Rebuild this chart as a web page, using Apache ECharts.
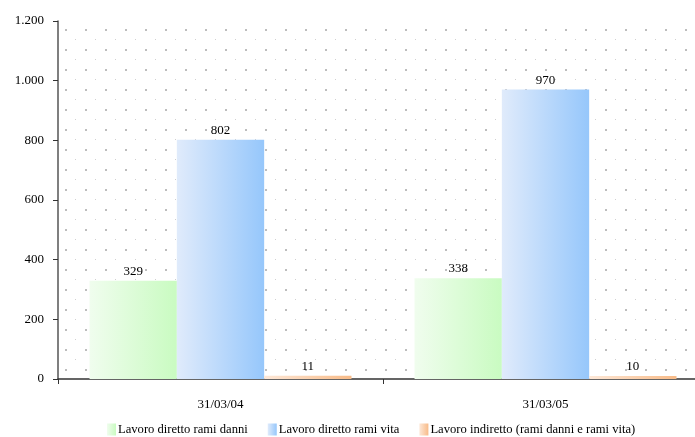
<!DOCTYPE html>
<html>
<head>
<meta charset="utf-8">
<script src="https://cdn.jsdelivr.net/npm/echarts@6/dist/echarts.min.js"></script>
<style>
  html, body { margin: 0; padding: 0; background: #fff; overflow: hidden; width: 695px; height: 437px; }
  #chart { width: 708px; height: 437px; }
</style>
</head>
<body>
<div id="chart"></div>
<script>
// Dates of the two reporting periods
const categories = ['31/03/04', '31/03/05'];
// Values by business line
const direttoDanni = [329, 338];
const direttoVita = [802, 970];
const indiretto = [11, 10];
const seriesNames = [
  'Lavoro diretto rami danni',
  'Lavoro diretto rami vita',
  'Lavoro indiretto (rami danni e rami vita)'
];

const FONT = '"Liberation Serif", "Times New Roman", serif';

// Dotted plot background tile
function dotTile() {
  const c = document.createElement('canvas');
  c.width = 20; c.height = 20;
  const g = c.getContext('2d');
  g.fillStyle = '#bdbdbd';
  g.fillRect(5, 9, 2, 2);
  g.fillStyle = '#d0d0d0';
  g.fillRect(15, 19, 1, 1);
  return c;
}

function grad(from, to) {
  return new echarts.graphic.LinearGradient(0, 0, 1, 0, [
    { offset: 0, color: from },
    { offset: 1, color: to }
  ]);
}
const fills = [
  grad('#f0fdee', '#c9fbc1'),
  grad('#e0ebfb', '#96c7fb'),
  grad('#fde8d8', '#f8bb88')
];

function fmt(v) {
  return String(v).replace(/\B(?=(\d{3})+(?!\d))/g, '.');
}

const chart = echarts.init(document.getElementById('chart'), null, { renderer: 'canvas' });

const makeSeries = (name, data, i) => ({
  name: name,
  type: 'bar',
  data: data,
  barGap: 0,
  barCategoryGap: '19.4%',
  itemStyle: { color: fills[i] },
  label: {
    show: true,
    position: 'top',
    distance: 3,
    color: '#000',
    fontFamily: FONT,
    fontSize: 13
  }
});

chart.setOption({
  animation: false,
  backgroundColor: '#fff',
  textStyle: { fontFamily: FONT },
  grid: {
    left: 58,
    right: 0,
    top: 21,
    bottom: 58,
    show: true,
    borderWidth: 0,
    backgroundColor: { image: dotTile(), repeat: 'repeat' }
  },
  legend: {
    top: 423,
    left: 107,
    padding: 0,
    itemWidth: 9,
    itemHeight: 12,
    itemGap: 20,
    icon: 'rect',
    textStyle: { fontFamily: FONT, fontSize: 12.6, color: '#000', padding: [0, 0, 0, -3] },
    data: seriesNames
  },
  xAxis: {
    type: 'category',
    data: categories,
    axisLine: { lineStyle: { color: '#333', width: 1.5 } },
    axisTick: { show: true, alignWithLabel: false, length: 5, lineStyle: { color: '#333' } },
    axisLabel: { color: '#000', fontFamily: FONT, fontSize: 13, margin: 19 }
  },
  yAxis: {
    type: 'value',
    min: 0,
    max: 1200,
    interval: 200,
    splitLine: { show: false },
    axisLine: { show: true, lineStyle: { color: '#555', width: 1.5 } },
    axisTick: { show: true, length: 5, lineStyle: { color: '#333' } },
    axisLabel: {
      color: '#000',
      fontFamily: FONT,
      fontSize: 13,
      margin: 14,
      formatter: fmt
    }
  },
  series: [
    makeSeries(seriesNames[0], direttoDanni, 0),
    makeSeries(seriesNames[1], direttoVita, 1),
    makeSeries(seriesNames[2], indiretto, 2)
  ]
});
</script>
</body>
</html>
